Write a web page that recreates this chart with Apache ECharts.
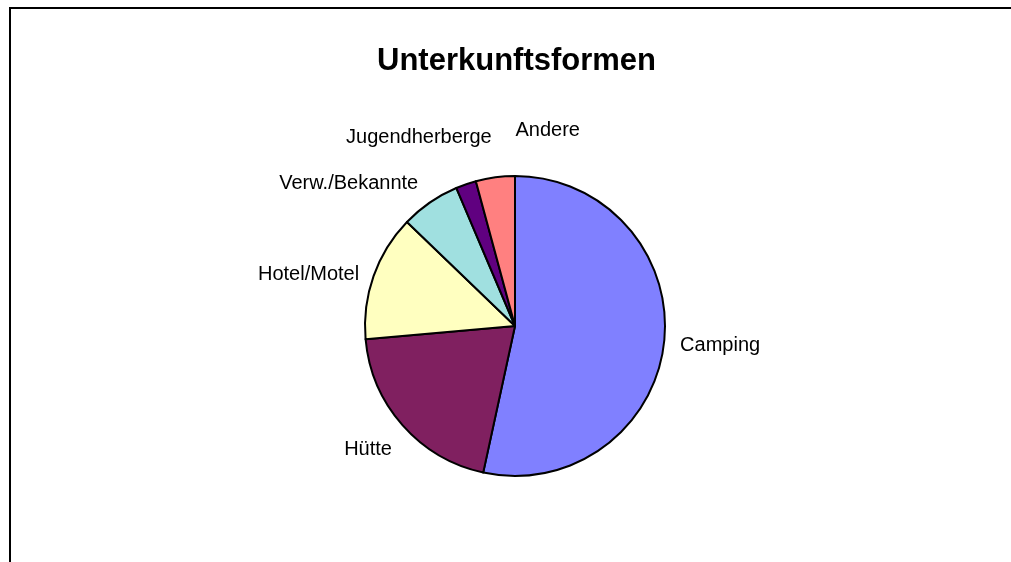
<!DOCTYPE html>
<html>
<head>
<meta charset="utf-8">
<script src="https://cdn.jsdelivr.net/npm/echarts@6/dist/echarts.min.js"></script>
<style>
html,body{margin:0;padding:0;background:#fff;}
#chart{width:1011px;height:562px;}
</style>
</head>
<body>
<div id="chart"></div>
<script>
const categories = ['Camping', 'Hütte', 'Hotel/Motel', 'Verw./Bekannte', 'Jugendherberge', 'Andere'];
const values = [53.4, 20.2, 13.6, 6.4, 2.2, 4.2];
const colors = ['#8080FF', '#802060', '#FFFFC0', '#A0E0E0', '#600080', '#FF8080'];
const titleText = 'Unterkunftsformen';
// label nudges (dx, dy) relative to ECharts' default outside label position
const labelNudges = [[1, 2], [2, 18], [0, 2], [-1, -11], [34, -37], [91, -37]];

const chart = echarts.init(document.getElementById('chart'), null, {renderer: 'canvas'});
chart.setOption({
  backgroundColor: '#ffffff',
  animation: false,
  title: {
    text: titleText,
    left: 372,
    top: 41,
    textStyle: {fontFamily: 'Liberation Sans, Arial, sans-serif', fontSize: 31, fontWeight: 'bold', color: '#000'}
  },
  graphic: [
    {type: 'polyline', shape: {points: [[10, 562], [10, 8], [1011, 8]]}, style: {stroke: '#000', lineWidth: 2, fill: null}, silent: true}
  ],
  series: [{
    type: 'pie',
    center: [515, 326],
    radius: [0, 150],
    startAngle: 90,
    clockwise: true,
    avoidLabelOverlap: false,
    data: categories.map((c, i) => ({name: c, value: values[i], itemStyle: {color: colors[i]}})),
    itemStyle: {borderColor: '#000', borderWidth: 2},
    label: {
      show: true,
      position: 'outside',
      formatter: '{b}',
      fontFamily: 'Liberation Sans, Arial, sans-serif',
      fontSize: 20,
      color: '#000'
    },
    labelLine: {show: false, length: 10, length2: 0},
    labelLayout: function (params) {
      const n = labelNudges[params.dataIndex];
      return {dx: n[0], dy: n[1], hideOverlap: false, moveOverlap: null};
    },
    emphasis: {disabled: true}
  }]
});
</script>
</body>
</html>
